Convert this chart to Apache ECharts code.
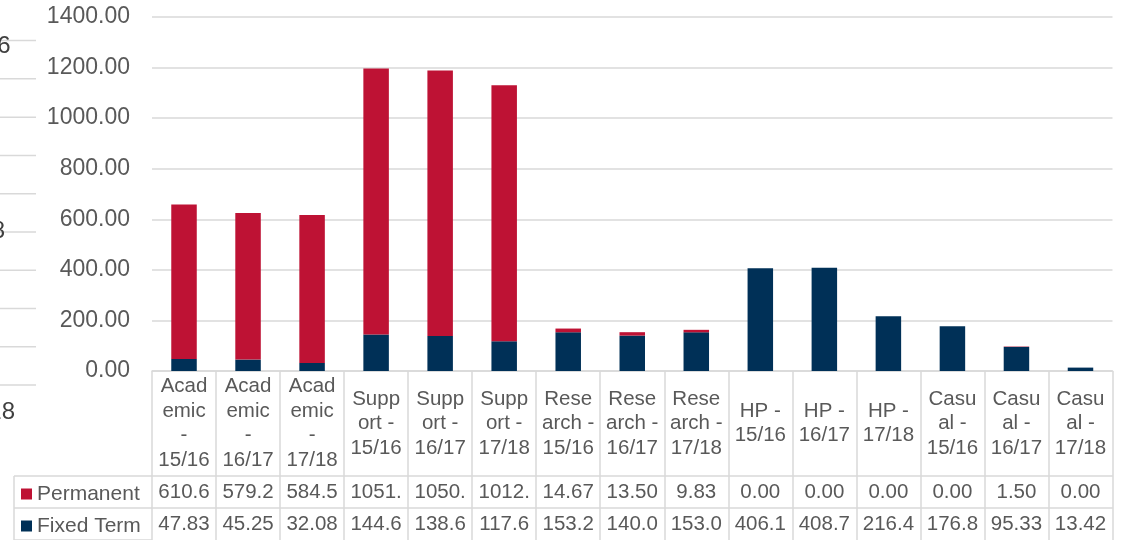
<!DOCTYPE html>
<html>
<head>
<meta charset="utf-8">
<script src="https://cdn.jsdelivr.net/npm/echarts@6/dist/echarts.min.js"></script>
<style>
  html, body { margin: 0; padding: 0; background: #ffffff; }
  #chart { width: 1124px; height: 540px; }
</style>
</head>
<body>
<div id="chart"></div>
<script>
// Staff FTE by contract type and year
const categories = [
  'Academic - 15/16', 'Academic - 16/17', 'Academic - 17/18',
  'Support - 15/16', 'Support - 16/17', 'Support - 17/18',
  'Research - 15/16', 'Research - 16/17', 'Research - 17/18',
  'HP - 15/16', 'HP - 16/17', 'HP - 17/18',
  'Casual - 15/16', 'Casual - 16/17', 'Casual - 17/18'
];
// wrapped header text as laid out in the data table
const categoryLabels = [
  'Acad\nemic\n-\n15/16', 'Acad\nemic\n-\n16/17', 'Acad\nemic\n-\n17/18',
  'Supp\nort -\n15/16', 'Supp\nort -\n16/17', 'Supp\nort -\n17/18',
  'Rese\narch -\n15/16', 'Rese\narch -\n16/17', 'Rese\narch -\n17/18',
  'HP -\n15/16', 'HP -\n16/17', 'HP -\n17/18',
  'Casu\nal -\n15/16', 'Casu\nal -\n16/17', 'Casu\nal -\n17/18'
];
const permanent = [610.6, 579.2, 584.5, 1051.5, 1050.2, 1012.4, 14.67, 13.50, 9.83, 0.00, 0.00, 0.00, 0.00, 1.50, 0.00];
const fixedTerm = [47.83, 45.25, 32.08, 144.6, 138.6, 117.6, 153.2, 140.0, 153.0, 406.1, 408.7, 216.4, 176.8, 95.33, 13.42];
const seriesNames = ['Permanent', 'Fixed Term'];
const yTicks = [0, 200, 400, 600, 800, 1000, 1200, 1400];
// labels of the neighbouring panel, cut by the left edge
const edgeLabels = ['16', '18', '18'];

const RED = '#be1234';
const NAVY = '#003057';
const GREY_TEXT = '#595959';
const BORDER = '#d9d9d9';
const FONT = 'Liberation Sans';

// cell text: two decimals, cut to the width of a table cell
const cellText = v => v.toFixed(2).slice(0, 5);

const chart = echarts.init(document.getElementById('chart'));

const gridLeft = 152, gridRight = 11.5, gridTop = 17, gridBottom = 169;
const headerH = 105, rowH = 32;
const tableTop = 540 - gridBottom + headerH;

function rowAxis(values, offset, len) {
  return {
    type: 'category',
    data: categories,
    position: 'bottom',
    offset: offset,
    boundaryGap: true,
    axisLine: { show: true, lineStyle: { color: BORDER, width: 1.5 } },
    axisTick: { show: true, length: len, interval: 0, lineStyle: { color: BORDER, width: 1.5 } },
    axisLabel: {
      interval: 0,
      margin: rowH / 2,
      verticalAlign: 'middle',
      color: GREY_TEXT,
      fontFamily: FONT,
      fontSize: 20.5,
      formatter: (v, i) => cellText(values[i])
    },
    splitLine: { show: false }
  };
}

// one legend entry per table row
function rowLegend(name, rowIndex) {
  return {
    show: true,
    left: 16,
    top: tableTop + rowIndex * rowH + 2,
    itemWidth: 11,
    itemHeight: 11,
    itemGap: 0,
    icon: 'rect',
    data: [name],
    selectedMode: false,
    textStyle: { color: GREY_TEXT, fontSize: 21, fontFamily: FONT, lineHeight: 22 }
  };
}

// cut-off labels at the left edge
const edgeTitlePos = [[-16, 33.5], [-21.7, 218.5], [-11.7, 399.5]];
const edgeTitles = edgeLabels.map((t, i) => ({
  text: t,
  left: edgeTitlePos[i][0],
  top: edgeTitlePos[i][1],
  padding: 0,
  textStyle: { fontSize: 24, fontWeight: 'normal', color: '#404040', fontFamily: FONT, lineHeight: 26 }
}));

// short rules of the neighbouring panel
const edgeGraphics = [];
for (let k = 0; k < 10; k++) {
  const y = 40.6 + k * 38.27;
  edgeGraphics.push({
    type: 'line', silent: true,
    shape: { x1: 0, y1: y, x2: 36, y2: y },
    style: { stroke: BORDER, lineWidth: 1.5 }
  });
}

// legend column of the data table
const legendCells = [0, 1, 2].map(r => ({
  type: 'line', silent: true,
  shape: { x1: 14, y1: tableTop + r * rowH, x2: gridLeft, y2: tableTop + r * rowH },
  style: { stroke: BORDER, lineWidth: 1.5 }
})).concat([{
  type: 'line', silent: true,
  shape: { x1: 14, y1: tableTop, x2: 14, y2: 540 },
  style: { stroke: BORDER, lineWidth: 1.5 }
}]);

chart.setOption({
  backgroundColor: '#ffffff',
  animation: false,
  textStyle: { fontFamily: FONT },
  title: edgeTitles,
  grid: { left: gridLeft, right: gridRight, top: gridTop, bottom: gridBottom, containLabel: false },
  legend: [rowLegend(seriesNames[0], 0), rowLegend(seriesNames[1], 1)],
  xAxis: [
    {
      type: 'category',
      data: categories,
      position: 'bottom',
      boundaryGap: true,
      axisLine: { show: true, lineStyle: { color: BORDER, width: 1.5 } },
      axisTick: { show: true, length: headerH, interval: 0, lineStyle: { color: BORDER, width: 1.5 } },
      axisLabel: {
        interval: 0,
        margin: headerH / 2,
        verticalAlign: 'middle',
        align: 'center',
        color: GREY_TEXT,
        fontFamily: FONT,
        fontSize: 20.5,
        lineHeight: 24.5,
        formatter: (v, i) => categoryLabels[i]
      },
      splitLine: { show: false }
    },
    rowAxis(permanent, headerH, rowH),
    rowAxis(fixedTerm, headerH + rowH, rowH + 4)
  ],
  yAxis: {
    type: 'value',
    min: yTicks[0],
    max: yTicks[yTicks.length - 1],
    interval: yTicks[1] - yTicks[0],
    axisLine: { show: false },
    axisTick: { show: false },
    axisLabel: {
      margin: 22,
      color: GREY_TEXT,
      fontFamily: FONT,
      fontSize: 23,
      formatter: v => v.toFixed(2)
    },
    splitLine: { show: true, lineStyle: { color: BORDER, width: 1.5 } }
  },
  series: [
    {
      name: seriesNames[1],
      type: 'bar',
      stack: 'fte',
      xAxisIndex: 0,
      data: fixedTerm,
      barWidth: 25.5,
      itemStyle: { color: NAVY }
    },
    {
      name: seriesNames[0],
      type: 'bar',
      stack: 'fte',
      xAxisIndex: 0,
      data: permanent,
      barWidth: 25.5,
      itemStyle: { color: RED }
    }
  ],
  graphic: edgeGraphics.concat(legendCells)
});
</script>
</body>
</html>
